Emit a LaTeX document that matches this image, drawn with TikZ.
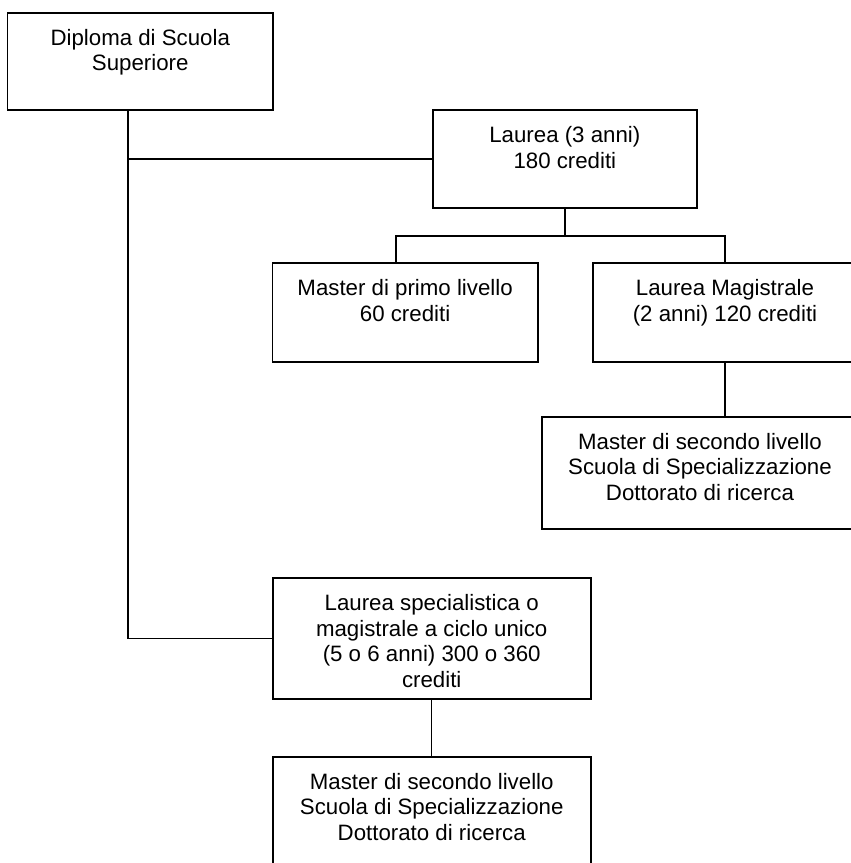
\documentclass[tikz,border=0pt]{standalone}
\usepackage{fontspec}
\setmainfont{Liberation Sans}
\usetikzlibrary{calc}

\begin{document}
\begin{tikzpicture}[x=0.03cm,y=-0.03cm,line width=1.3pt,
    box/.style 2 args={draw, line width=1.6pt, inner sep=0pt, minimum width=#1*0.03cm, minimum height=#2*0.03cm},
    boxtext/.style={anchor=north, yshift=-14pt, align=center, inner sep=0pt,
        font=\fontsize{19}{21.9}\selectfont}]
    \useasboundingbox (0,0) rectangle (851,863);
    \clip (0,0) rectangle (851,863);
    % the boxes
    \node[box={265.5}{97.3}, label={[boxtext]north:{Diploma di Scuola\\Superiore}}] (dip) at (140.25,61.35) {};
    \node[box={264.3}{98}, label={[boxtext]north:{Laurea (3 anni)\\180 crediti}}] (lau) at (564.85,159) {};
    \node[box={265.2}{98.7}, label={[boxtext]north:{Master di primo livello\\60 crediti}}] (mpl) at (405.1,312.35) {};
    \node[box={264}{98.7}, label={[boxtext]north:{Laurea Magistrale\\(2 anni) 120 crediti}}] (lm) at (725,312.35) {};
    \node[box={316}{112.3}, label={[boxtext]north:{Master di secondo livello\\Scuola di Specializzazione\\Dottorato di ricerca}}] (msl) at (700,472.8) {};
    \node[box={318}{121}, label={[boxtext]north:{Laurea specialistica o\\magistrale a ciclo unico\\(5 o 6 anni) 300 o 360\\crediti}}] (ls) at (431.7,638.5) {};
    \node[box={318}{112.3}, label={[boxtext]north:{Master di secondo livello\\Scuola di Specializzazione\\Dottorato di ricerca}}] (msl2) at (431.7,812.85) {};
    % connectors
    \coordinate (trunk) at (128,110);
    \draw (trunk) |- (lau.west);
    \draw (trunk) |- (ls.west);
    \coordinate (fork) at ($(lau.south)+(0,28)$);
    \coordinate (forkL) at (396,236);
    \draw (lau.south) -- (fork);
    \draw (forkL |- mpl.north) -- (forkL) -| (lm.north);
    \draw (lm.south) -- (lm.south |- msl.north);
    \draw (ls.south) -- (ls.south |- msl2.north);
\end{tikzpicture}
\end{document}
